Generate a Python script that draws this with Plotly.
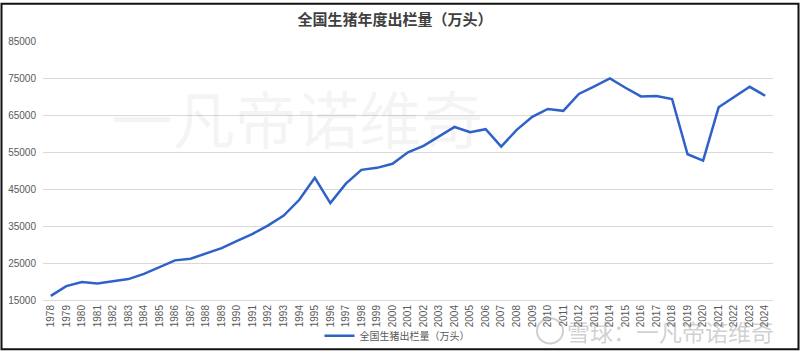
import plotly.graph_objects as go

years = [str(y) for y in range(1978, 2025)]
pigs = [16110, 18767, 19861, 19495, 20063, 20660, 22047, 23875, 25722, 26177,
        27570, 29023, 30991, 32897, 35170, 37824, 42103, 48051, 41225, 46484,
        50215, 50749, 51862, 54936, 56687, 59145, 61806, 60367, 61207, 56508,
        61016, 64538, 66686, 66170, 70724, 72768, 74952, 72416, 70073, 70202,
        69382, 54419, 52704, 67128, 69995, 72662, 70256]
yticks = [15000, 25000, 35000, 45000, 55000, 65000, 75000, 85000]

title = "全国生猪年度出栏量（万头）"
series_name = "全国生猪出栏量（万头）"

L, R, T, B = 43, 27, 41, 53
W, H = 800, 362
pw, ph = W - L - R, H - T - B

def px(x):
    return (x - L) / pw

def py(y):
    return (H - B - y) / ph

fig = go.Figure()
fig.add_trace(go.Scatter(
    x=years, y=pigs, mode="lines", name=series_name,
    line=dict(color="#2f62c8", width=2.5),
))

fig.update_layout(
    width=W, height=H,
    margin=dict(l=L, r=R, t=T, b=B),
    paper_bgcolor="white", plot_bgcolor="white",
    font=dict(family="Noto Sans CJK SC, sans-serif", color="#595959", size=10),
    title=dict(text="<b>" + title + "</b>", x=px(395), xanchor="center",
               xref="paper", y=1 - 20 / H, yanchor="middle",
               font=dict(size=15, color="#404040", family="Noto Sans CJK SC")),
    showlegend=True,
    legend=dict(orientation="h", x=px(397), xanchor="center", y=py(346), yanchor="middle",
                font=dict(size=10, color="#595959"), bgcolor="rgba(0,0,0,0)",
                itemwidth=30),
    xaxis=dict(type="category", range=[-0.5, len(years) - 0.5], tickangle=-90,
               showgrid=False, ticks="",
               showline=True, linecolor="#d9d9d9", linewidth=1,
               tickfont=dict(size=10, family="Liberation Sans, Arial", color="#595959"),
               automargin=False, fixedrange=True),
    yaxis=dict(range=[15000, 85060], tickvals=yticks, ticktext=[str(v) for v in yticks],
               showgrid=True, gridcolor="#d9d9d9", gridwidth=1, zeroline=False,
               ticks="", ticklabelstandoff=6,
               tickfont=dict(size=10, family="Liberation Sans, Arial", color="#595959"),
               automargin=False, fixedrange=True),
)

# big faint watermark
fig.add_annotation(text="一凡帝诺维奇", xref="paper", yref="paper",
                   x=px(297), y=py(120), xanchor="center", yanchor="middle",
                   showarrow=False,
                   font=dict(size=62, color="rgba(0,0,0,0.045)", family="Noto Sans CJK SC"))
# bottom-right watermark
fig.add_annotation(text="雪球：一凡帝诺维奇", xref="paper", yref="paper",
                   x=px(776), y=py(341), xanchor="right", yanchor="middle",
                   showarrow=False,
                   font=dict(size=23, color="rgba(150,150,150,0.45)", family="Noto Sans CJK SC"))
fig.add_shape(type="circle", xref="paper", yref="paper",
              x0=px(537), x1=px(563), y0=py(328), y1=py(354),
              line=dict(color="rgba(150,150,150,0.45)", width=2))

# outer frame
fig.add_shape(type="rect", xref="paper", yref="paper",
              x0=px(1.5), x1=px(798.5), y0=py(360), y1=py(2.5),
              line=dict(color="#111111", width=2), layer="above")

fig.write_html("out.html", config={"displayModeBar": False},
               post_script="document.body.style.margin='0';document.body.style.overflow='hidden';")
